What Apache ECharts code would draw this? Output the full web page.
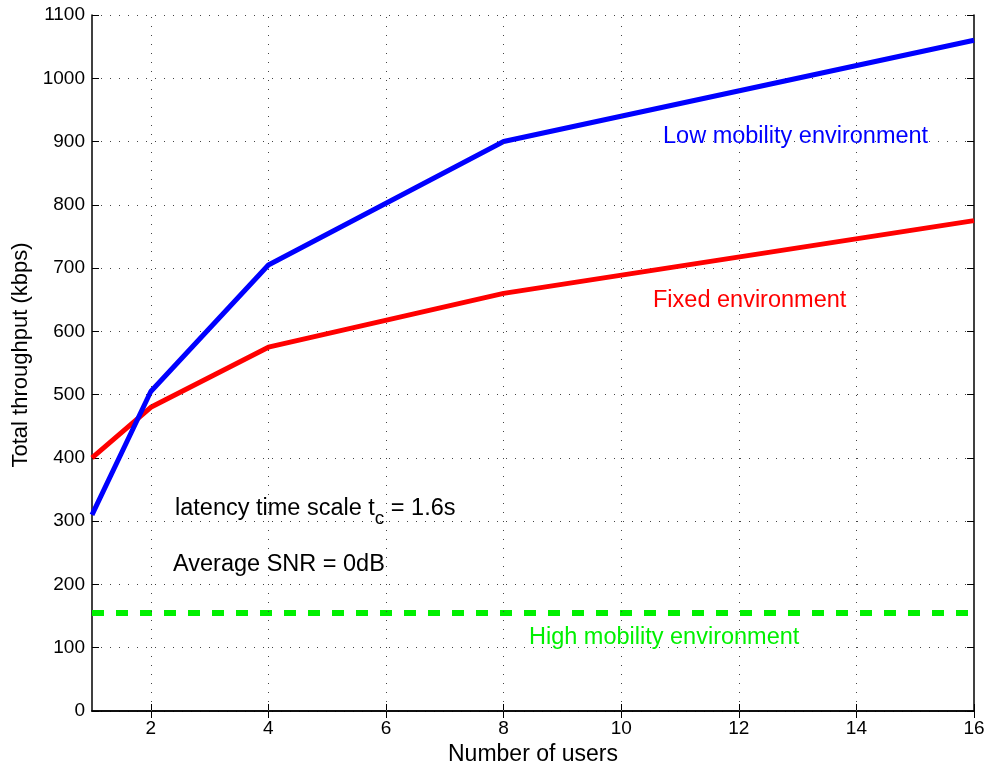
<!DOCTYPE html>
<html>
<head>
<meta charset="utf-8">
<script src="https://cdn.jsdelivr.net/npm/echarts@6/dist/echarts.min.js"></script>
<style>
  html, body { margin: 0; padding: 0; background: #fff; }
  #main { width: 985px; height: 766px; }
</style>
</head>
<body>
<div id="main"></div>
<script>
// data
var users = [1, 2, 4, 8, 16];
var lowMobility = [310, 505, 705, 900, 1060];
var fixedEnv = [400, 480, 575, 660, 775];
var highMobility = [155, 155, 155, 155, 155];
var xTicks = [2, 4, 6, 8, 10, 12, 14, 16];

var FONT = '"Liberation Sans", Arial, sans-serif';

function pairs(xs, ys) {
  return xs.map(function (x, i) { return [x, ys[i]]; });
}

var myChart = echarts.init(document.getElementById('main'));

var dotted = { color: '#444', width: 1, type: [1, 8] };

var option = {
  animation: false,
  backgroundColor: '#fff',
  grid: { left: 92, right: 11, top: 15, bottom: 55, outerBoundsMode: 'none' },
  xAxis: [{
    type: 'value',
    min: 1,
    max: 16,
    name: 'Number of users',
    nameLocation: 'middle',
    nameGap: 29,
    nameTextStyle: { fontFamily: FONT, fontSize: 23, color: '#000' },
    axisLine: { lineStyle: { color: '#000', width: 1.5 } },
    axisTick: { inside: true, length: 7, customValues: xTicks, lineStyle: { color: '#000' } },
    axisLabel: { customValues: xTicks, fontFamily: FONT, fontSize: 19, color: '#000', margin: 8 },
    splitLine: { show: false }
  }, {
    type: 'value',
    position: 'top',
    min: 1,
    max: 16,
    axisLine: { lineStyle: { color: '#000', width: 1.5 } },
    axisTick: { inside: true, length: 7, customValues: xTicks, lineStyle: { color: '#000' } },
    axisLabel: { show: false },
    splitLine: { show: false }
  }],
  yAxis: [{
    type: 'value',
    min: 0,
    max: 1100,
    interval: 100,
    name: 'Total throughput (kbps)',
    nameLocation: 'middle',
    nameGap: 54,
    nameTextStyle: { fontFamily: FONT, fontSize: 22, color: '#000', padding: [0, 0, 0, 16] },
    axisLine: { show: true, lineStyle: { color: '#000', width: 1.5 } },
    axisTick: { show: true, inside: true, length: 7, lineStyle: { color: '#000' } },
    axisLabel: { fontFamily: FONT, fontSize: 19, color: '#000', margin: 7, formatter: function (v) { return String(v); } },
    splitLine: { show: true, lineStyle: dotted }
  }, {
    type: 'value',
    position: 'right',
    min: 0,
    max: 1100,
    interval: 100,
    axisLine: { show: true, lineStyle: { color: '#000', width: 1.5 } },
    axisTick: { show: true, inside: true, length: 7, lineStyle: { color: '#000' } },
    axisLabel: { show: false },
    splitLine: { show: false }
  }],
  series: [{
    name: 'Low mobility environment',
    type: 'line',
    data: pairs(users, lowMobility),
    showSymbol: false,
    lineStyle: { color: '#0000ff', width: 5 },
    z: 4,
    markLine: {
      silent: true,
      symbol: 'none',
      label: { show: false },
      lineStyle: dotted,
      data: xTicks.slice(0, -1).map(function (v) { return { xAxis: v }; })
    }
  }, {
    name: 'Fixed environment',
    type: 'line',
    data: pairs(users, fixedEnv),
    showSymbol: false,
    lineStyle: { color: '#ff0000', width: 5 },
    z: 3
  }, {
    name: 'High mobility environment',
    type: 'line',
    data: pairs(users, highMobility),
    showSymbol: false,
    lineStyle: { color: '#00f000', width: 6, type: [12, 12] },
    z: 2
  }],
  graphic: [
    { type: 'text', x: 663, y: 137, style: { text: 'Low mobility environment', fill: '#0000ff', font: '23.5px ' + FONT, verticalAlign: 'middle' } },
    { type: 'text', x: 653, y: 301, style: { text: 'Fixed environment', fill: '#ff0000', font: '23.5px ' + FONT, verticalAlign: 'middle' } },
    { type: 'text', x: 529, y: 638, style: { text: 'High mobility environment', fill: '#00f000', font: '23.5px ' + FONT, verticalAlign: 'middle' } },
    { type: 'text', x: 175, y: 489, style: {
      text: '{a|latency time scale t}{s|c}{a| = 1.6s}',
      rich: {
        a: { fontFamily: FONT, fontSize: 23.5, fill: '#000' },
        s: { fontFamily: FONT, fontSize: 19, fill: '#000', padding: [20, 0, 0, 0] }
      }
    } },
    { type: 'text', x: 173, y: 565, style: { text: 'Average SNR = 0dB', fill: '#000', font: '23.5px ' + FONT, verticalAlign: 'middle' } }
  ]
};

myChart.setOption(option);
</script>
</body>
</html>
